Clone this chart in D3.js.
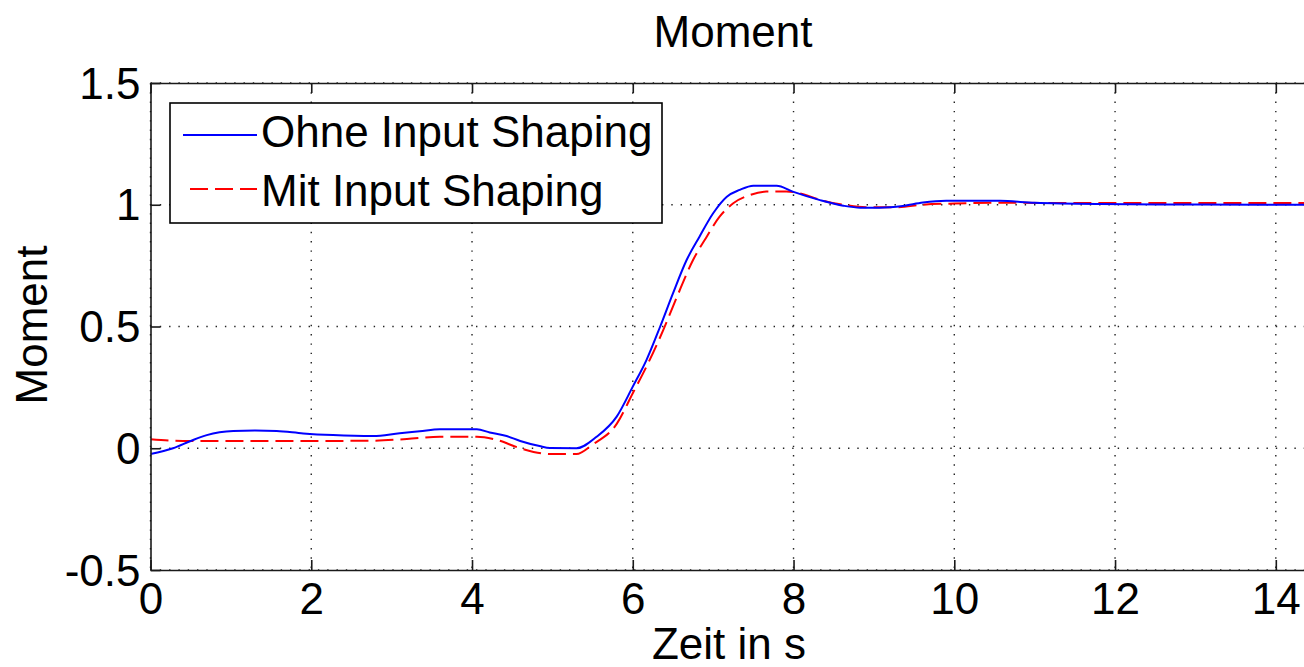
<!DOCTYPE html>
<html>
<head>
<meta charset="utf-8">
<script src="https://cdn.jsdelivr.net/npm/d3@7"></script>
<style>
  html, body { margin: 0; padding: 0; background: #fff; overflow: hidden; }
  svg { display: block; }
  text { font-family: "Liberation Sans", Arial, Helvetica, sans-serif; fill: #000; }
</style>
</head>
<body>
<svg id="chart" width="1304" height="667"></svg>
<script>
// ---- data ----
const tOhne = [0, 0.28, 0.5, 0.70, 1.03, 1.3, 1.57, 1.9, 2.27, 2.77, 3.1, 3.35, 3.6, 4.06, 4.22, 4.43, 4.6, 4.84, 4.97, 5.3, 5.55, 5.8, 6.0, 6.17, 6.34, 6.5, 6.67, 6.83, 7.0, 7.17, 7.33, 7.5, 7.79, 7.99, 8.33, 8.62, 8.83, 9.07, 9.36, 9.61, 9.9, 10.57, 11.0, 11.8, 13, 14.5];
const ohne  = [-0.024, 0, 0.03, 0.054, 0.071, 0.073, 0.071, 0.061, 0.054, 0.050, 0.062, 0.070, 0.078, 0.078, 0.065, 0.05, 0.03, 0.009, 0.001, 0, 0.047, 0.13, 0.253, 0.362, 0.499, 0.636, 0.773, 0.869, 0.965, 1.033, 1.061, 1.078, 1.078, 1.054, 1.019, 0.996, 0.988, 0.988, 0.995, 1.009, 1.016, 1.016, 1.008, 1.003, 1.001, 1.0];
const tMit = [0, 0.4, 1.11, 2.0, 2.77, 3.19, 3.6, 4.06, 4.3, 4.6, 4.97, 5.3, 5.5, 5.8, 6.0, 6.17, 6.38, 6.55, 6.75, 6.92, 7.08, 7.25, 7.46, 7.66, 7.91, 8.08, 8.33, 8.62, 8.9, 9.3, 9.6, 10.0, 10.6, 11.5, 13, 14.5];
const mit  = [0.037, 0.03, 0.03, 0.03, 0.031, 0.038, 0.047, 0.047, 0.035, 0.0, -0.024, -0.024, 0.015, 0.10, 0.226, 0.335, 0.486, 0.622, 0.773, 0.869, 0.951, 1.006, 1.04, 1.054, 1.054, 1.047, 1.02, 1.0, 0.99, 0.99, 1.0, 1.005, 1.008, 1.007, 1.007, 1.007];
const xTicks = [0, 2, 4, 6, 8, 10, 12, 14];
const yTicks = [-0.5, 0, 0.5, 1, 1.5];
const yTickLabels = ["-0.5", "0", "0.5", "1", "1.5"];
const seriesNames = ["Ohne Input Shaping", "Mit Input Shaping"];
const titleText = "Moment";
const xLabelText = "Zeit in s";
const yLabelText = "Moment";

// ---- layout ----
const svg = d3.select("#chart");
const L = 150.5, R = 1316, T = 83, B = 570;
const x = d3.scaleLinear().domain([0, 14.5]).range([L, R]);
const y = d3.scaleLinear().domain([-0.5, 1.5]).range([B, T]);
const FS = 44;

// grid
const grid = svg.append("g");
grid.selectAll("line.gx").data(xTicks).join("line")
  .attr("x1", d => x(d)).attr("x2", d => x(d)).attr("y1", T).attr("y2", B)
  .attr("stroke", "#222").attr("stroke-width", 1.4).attr("stroke-dasharray", "1.4,7.9");
grid.selectAll("line.gy").data(yTicks).join("line")
  .attr("y1", d => y(d)).attr("y2", d => y(d)).attr("x1", L).attr("x2", R)
  .attr("stroke", "#222").attr("stroke-width", 1.4).attr("stroke-dasharray", "1.4,7.9");

// lines
svg.append("clipPath").attr("id", "clip").append("rect")
  .attr("x", L).attr("y", T).attr("width", R - L).attr("height", B - T);
const line = d3.line().x(d => x(d[0])).y(d => y(d[1])).curve(d3.curveMonotoneX);
const g = svg.append("g").attr("clip-path", "url(#clip)");
g.append("path").datum(tMit.map((t, i) => [t, mit[i]]))
  .attr("d", line).attr("fill", "none").attr("stroke", "#ff0000")
  .attr("stroke-width", 2).attr("stroke-dasharray", "18,7");
g.append("path").datum(tOhne.map((t, i) => [t, ohne[i]]))
  .attr("d", line).attr("fill", "none").attr("stroke", "#0000ff")
  .attr("stroke-width", 2);

// axes (box with inward ticks)
const axCol = "#1a1a1a";
const xAxisB = d3.axisBottom(x).tickValues(xTicks).tickSizeInner(-10).tickSizeOuter(0).tickFormat(d => String(d));
const xAxisT = d3.axisTop(x).tickValues(xTicks).tickSizeInner(-10).tickSizeOuter(0).tickFormat("");
const yAxisL = d3.axisLeft(y).tickValues(yTicks).tickSizeInner(-10).tickSizeOuter(0).tickFormat((d, i) => yTickLabels[i]);
const yAxisR = d3.axisRight(y).tickValues(yTicks).tickSizeInner(-10).tickSizeOuter(0).tickFormat("");

function style(sel) {
  sel.selectAll("path.domain").attr("stroke", axCol).attr("stroke-width", 1.6);
  sel.selectAll(".tick line").attr("stroke", axCol).attr("stroke-width", 1.6);
  sel.selectAll(".tick text").attr("font-size", FS).attr("font-family", '"Liberation Sans", Arial, sans-serif').attr("fill", "#000");
}
const gxb = svg.append("g").attr("transform", `translate(0,${B})`).call(xAxisB).call(style);
gxb.selectAll(".tick text").attr("y", 44).attr("dy", 0);
svg.append("g").attr("transform", `translate(0,${T})`).call(xAxisT).call(style);
const gyl = svg.append("g").attr("transform", `translate(${L},0)`).call(yAxisL).call(style);
gyl.selectAll(".tick text").attr("x", -10).attr("dy", 0).attr("y", 15);
svg.append("g").attr("transform", `translate(${R},0)`).call(yAxisR).call(style);

// title & labels
svg.append("text").attr("x", 733).attr("y", 47).attr("text-anchor", "middle").attr("font-size", FS).text(titleText);
svg.append("text").attr("x", 729).attr("y", 659).attr("text-anchor", "middle").attr("font-size", FS).text(xLabelText);
svg.append("text").attr("transform", "translate(47,325) rotate(-90)").attr("text-anchor", "middle").attr("font-size", FS).text(yLabelText);

// legend
const lg = svg.append("g");
lg.append("rect").attr("x", 170).attr("y", 103).attr("width", 492).attr("height", 120)
  .attr("fill", "#fff").attr("stroke", "#000").attr("stroke-width", 1.6);
const legendItems = [
  {name: seriesNames[0], color: "#0000ff", dash: null, ly: 135, ty: 147},
  {name: seriesNames[1], color: "#ff0000", dash: "0,7,18,7,18,7,18", ly: 189, ty: 206}
];
legendItems.forEach(it => {
  lg.append("line").attr("x1", 183).attr("x2", 257).attr("y1", it.ly).attr("y2", it.ly)
    .attr("stroke", it.color).attr("stroke-width", 2)
    .attr("stroke-dasharray", it.dash);
  lg.append("text").attr("x", 261).attr("y", it.ty).attr("font-size", FS).text(it.name);
});
</script>
</body>
</html>
